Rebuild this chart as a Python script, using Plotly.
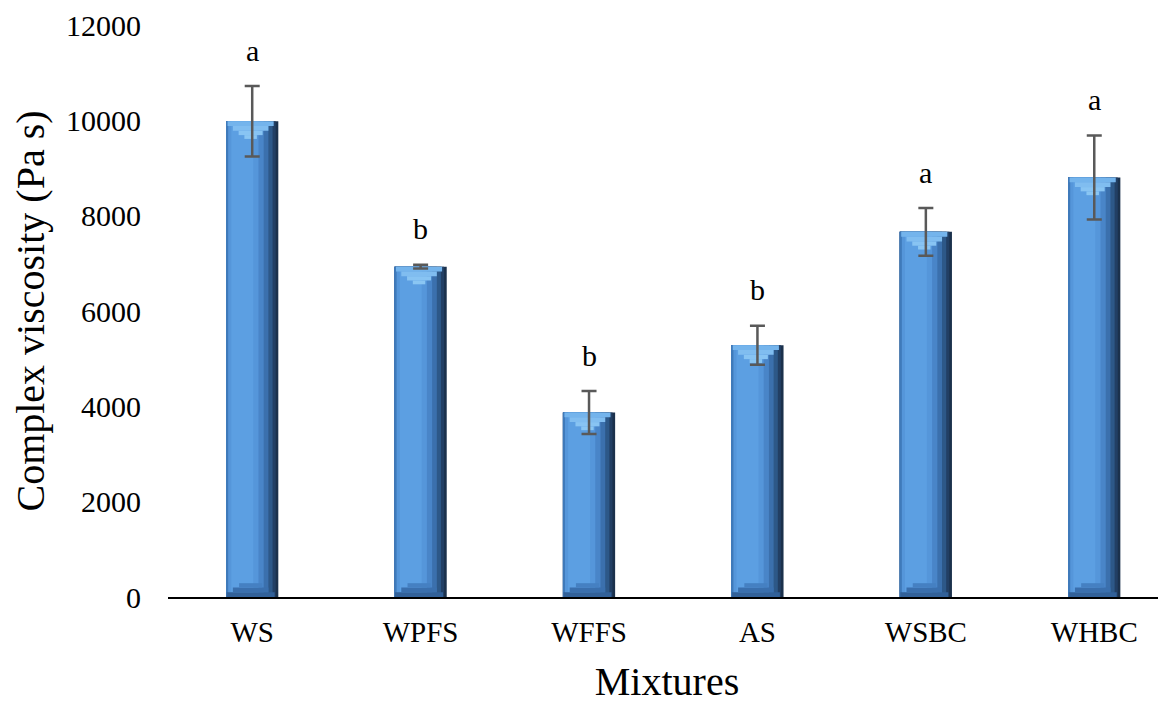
import plotly.graph_objects as go

categories = ["WS", "WPFS", "WFFS", "AS", "WSBC", "WHBC"]
viscosity = [9980, 6930, 3870, 5280, 7660, 8800]
errors = [740, 40, 450, 410, 500, 880]
letters = ["a", "b", "b", "b", "a", "a"]

FONT = "Liberation Serif, Times New Roman, serif"
BAR_W = 0.31

fig = go.Figure()

# cylinder-like shading via overlaid stripes (fraction start, fraction end, colour)
stripes = [
    (0.00, 1.00, "#1b314c"),
    (0.00, 0.95, "#223f64"),
    (0.00, 0.89, "#2d5888"),
    (0.00, 0.81, "#3b70ad"),
    (0.00, 0.72, "#4985c8"),
    (0.03, 0.62, "#5596da"),
    (0.10, 0.52, "#5c9fe2"),
    (0.00, 0.04, "#3f7aba"),
]
for a, b, col in stripes:
    fig.add_trace(go.Bar(
        x=categories, y=viscosity,
        width=(b - a) * BAR_W, offset=-BAR_W / 2 + a * BAR_W,
        marker=dict(color=col, line=dict(width=0)),
        hoverinfo="skip", showlegend=False,
    ))

# top bevel (lighter) and bottom bevel (darker)
top_bands = [(0.96, 100, 0, "#74b4ec"), (0.74, 200, 100, "#80bdf0"),
             (0.50, 290, 200, "#88c4f3"), (0.26, 370, 290, "#8ac6f3")]
for frac, hi, lo, col in top_bands:
    fig.add_trace(go.Bar(
        x=categories, y=[hi - lo] * len(categories),
        base=[v - hi for v in viscosity],
        width=frac * BAR_W * 0.92, offset=-frac * BAR_W * 0.92 / 2 - BAR_W * 0.03,
        marker=dict(color=col, line=dict(width=0)),
        hoverinfo="skip", showlegend=False,
    ))
bottom_bands = [(1.00, 0, 100, "#326199"), (0.74, 100, 200, "#3a6fad"),
                (0.48, 200, 290, "#4580c2")]
for frac, lo, hi, col in bottom_bands:
    fig.add_trace(go.Bar(
        x=categories, y=[hi - lo] * len(categories),
        base=[lo] * len(categories),
        width=frac * BAR_W * 0.92, offset=-frac * BAR_W * 0.92 / 2 - BAR_W * 0.03,
        marker=dict(color=col, line=dict(width=0)),
        hoverinfo="skip", showlegend=False,
    ))

# error bars
fig.add_trace(go.Scatter(
    x=categories, y=viscosity, mode="markers",
    marker=dict(size=1, opacity=0),
    error_y=dict(type="data", array=errors, visible=True,
                 color="#595959", thickness=2.5, width=7.5),
    hoverinfo="skip", showlegend=False,
))

for c, v, e, t in zip(categories, viscosity, errors, letters):
    fig.add_annotation(x=c, y=v + e, text=t, showarrow=False,
                       yshift=36, yanchor="middle",
                       font=dict(family=FONT, size=30, color="black"))

fig.update_layout(
    barmode="overlay",
    width=1158, height=696,
    margin=dict(l=160, r=0, t=15, b=107),
    paper_bgcolor="white", plot_bgcolor="white",
    font=dict(family=FONT, color="black"),
    showlegend=False,
)
fig.update_xaxes(
    range=[-0.5, 5.426], showgrid=False, showline=True,
    linecolor="black", linewidth=2, ticks="",
    tickfont=dict(family=FONT, size=29, color="black"),
    ticklabelstandoff=8,
    title=dict(text="Mixtures", font=dict(family=FONT, size=40, color="black"), standoff=22),
)
fig.update_yaxes(
    range=[0, 12000], dtick=2000, tickformat="d", showgrid=False, showline=False,
    zeroline=False, ticks="", ticklabeloverflow="allow",
    tickfont=dict(family=FONT, size=30, color="black"),
    ticklabelstandoff=26,
    title=dict(text="Complex viscosity (Pa s)", font=dict(family=FONT, size=40, color="black"), standoff=13),
)

fig.write_html("out.html")
